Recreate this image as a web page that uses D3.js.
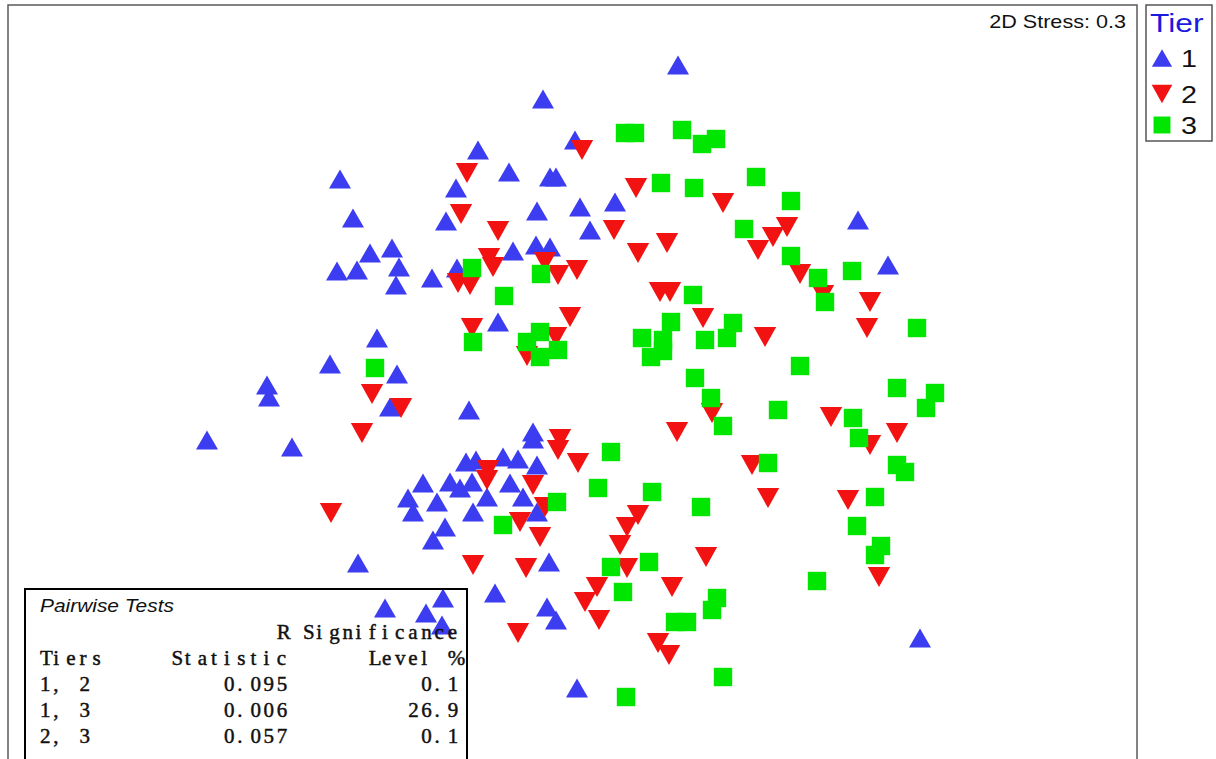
<!DOCTYPE html>
<html>
<head>
<meta charset="utf-8">
<script src="https://cdn.jsdelivr.net/npm/d3@7"></script>
<style>
  body { margin: 0; background: #fff; }
  svg { display: block; }
</style>
</head>
<body>
<div></div>
<script>
      var outerWidth  = 1216;
      var outerHeight = 759;
      var frame = { left: 8, top: 5, right: 1137, bottom: 762 };

      // MDS ordination coordinates, one array per tier
      var tier1 = [
        [1.08,3.15],[-0.27,2.81],[0.05,2.40],[-0.92,2.30],[-2.30,2.01],[-0.61,2.08],
        [-0.20,2.03],[-0.14,2.03],[-1.14,1.92],[-2.17,1.62],[-0.33,1.69],[0.10,1.73],
        [0.45,1.78],[-1.24,1.59],[0.20,1.50],[-1.78,1.32],[-2.00,1.27],[-0.34,1.35],
        [-0.20,1.33],[-0.57,1.29],[-2.13,1.10],[-2.33,1.09],[-1.71,1.13],[-1.38,1.02],
        [-1.74,0.95],[-1.13,1.12],[-0.72,0.58],[-1.93,0.42],[-2.40,0.16],[-1.73,0.06],
        [-3.03,-0.05],[-3.01,-0.17],[-1.80,-0.27],[-3.63,-0.60],[-2.78,-0.67],[-1.01,-0.30],
        [-0.37,-0.52],[-0.37,-0.59],[-1.04,-0.82],[-0.94,-0.80],[-0.67,-0.77],[-0.52,-0.79],
        [-0.33,-0.85],[-1.47,-1.03],[-1.20,-1.02],[-1.10,-1.08],[-0.98,-1.02],[-0.60,-1.03],
        [-0.47,-1.17],[-0.33,-1.32],[-1.62,-1.18],[-1.33,-1.22],[-1.57,-1.32],[-0.83,-1.17],
        [-0.97,-1.32],[-1.25,-1.47],[-1.37,-1.60],[-2.12,-1.83],[-0.21,-1.82],[-0.75,-2.13],
        [-1.85,-2.28],[-1.44,-2.33],[-1.27,-2.18],[-1.28,-2.45],[-0.23,-2.27],[-0.14,-2.40],
        [0.07,-3.08],[2.88,1.60],[3.18,1.15],[3.50,-2.58]
      ];
      var tier2 = [
        [0.12,2.30],[-1.03,2.07],[-1.09,1.66],[-0.72,1.49],[0.66,1.92],[0.44,1.50],
        [0.68,1.27],[0.97,1.37],[-0.81,1.22],[-0.77,1.13],[-0.25,1.18],[-0.12,1.05],
        [0.07,1.10],[-1.12,0.97],[-1.00,0.95],[1.53,1.77],[2.17,1.53],[2.03,1.43],
        [1.88,1.30],[2.30,1.06],[0.00,0.63],[-0.98,0.52],[0.90,0.88],[1.00,0.88],
        [-0.14,0.43],[-0.43,0.24],[1.07,-0.52],[-0.10,-0.59],[-0.12,-0.70],[0.08,-0.83],
        [-0.82,-0.90],[-0.83,-1.00],[-0.37,-1.05],[2.53,0.85],[3.00,0.78],[1.33,0.62],
        [2.97,0.52],[1.95,0.43],[1.42,-0.33],[2.61,-0.37],[3.27,-0.53],[3.00,-0.65],
        [1.82,-0.85],[1.98,-1.18],[2.78,-1.20],[-1.98,-0.14],[-1.69,-0.28],[-2.08,-0.53],
        [-2.39,-1.33],[-0.50,-1.42],[-0.30,-1.57],[-0.25,-1.27],[-0.97,-1.85],[-0.44,-1.88],
        [-0.52,-2.53],[0.68,-1.35],[0.57,-1.47],[0.50,-1.65],[0.57,-1.88],[1.36,-1.77],
        [0.27,-2.07],[0.15,-2.22],[0.29,-2.40],[1.02,-2.07],[0.88,-2.63],[0.99,-2.75],
        [3.09,-1.97]
      ];
      var tier3 = [
        [0.55,2.47],[0.65,2.47],[1.12,2.50],[0.91,1.97],[1.24,1.92],[-0.98,1.12],
        [-0.29,1.06],[1.46,2.41],[1.32,2.36],[1.86,2.03],[2.21,1.79],[1.74,1.51],
        [2.21,1.24],[2.48,1.02],[2.82,1.09],[-0.66,0.84],[-0.97,0.38],[-0.43,0.38],
        [-0.30,0.48],[-0.12,0.30],[-0.30,0.23],[0.72,0.42],[0.93,0.40],[1.01,0.58],
        [0.81,0.23],[0.93,0.29],[1.23,0.85],[1.25,0.02],[0.41,-0.72],[0.28,-1.08],
        [0.82,-1.12],[-0.13,-1.22],[2.55,0.78],[1.63,0.57],[1.57,0.42],[1.35,0.40],
        [3.47,0.52],[2.30,0.14],[1.41,-0.18],[3.27,-0.08],[3.65,-0.13],[3.56,-0.28],
        [2.08,-0.30],[1.53,-0.46],[2.83,-0.38],[2.89,-0.58],[1.98,-0.83],[3.27,-0.85],
        [3.35,-0.92],[3.05,-1.17],[1.31,-1.27],[0.41,-1.87],[0.79,-1.82],[0.53,-2.12],
        [1.47,-2.18],[1.42,-2.30],[1.05,-2.42],[1.17,-2.42],[1.53,-2.97],[0.56,-3.17],
        [2.87,-1.46],[3.11,-1.66],[3.05,-1.75],[2.47,-2.01],[-1.95,0.12],[-0.67,-1.45]
      ];

      var tiers      = ["1", "2", "3"];
      var tierColors = ["#3c3cf0", "#f21212", "#00e600"];
      var stressLabel = "2D Stress: 0.3";

      // ANOSIM pairwise table
      var pairLabels = ["1, 2", "1, 3", "2, 3"];
      var rStatistic = ["0.095", "0.006", "0.057"];
      var sigLevel   = ["0.1", "26.9", "0.1"];

      var xScale = d3.scaleLinear().domain([-5.62, 5.67]).range([frame.left, frame.right]);
      var yScale = d3.scaleLinear().domain([-3.82, 3.75]).range([frame.bottom, frame.top]);

      // marker shapes, centred on their bounding box
      var shapes = [
        "M0,-9.5L11,9.5L-11,9.5Z",
        "M0,10L11.2,-10L-11.2,-10Z",
        "M-9.2,-9.2H9.2V9.2H-9.2Z"
      ];

      var sans = "Liberation Sans, Arial, sans-serif";

      var svg = d3.select("div").append("svg")
        .attr("width",  outerWidth)
        .attr("height", outerHeight);

      svg.append("rect")
        .attr("width", outerWidth).attr("height", outerHeight)
        .attr("fill", "#fff");

      // the original output has its text a little wider than Arial
      function wideText(parent, x, y, size, sx){
        return parent.append("text")
          .attr("transform", "translate(" + x + "," + y + ") scale(" + sx + ",1)")
          .attr("font-family", sans)
          .attr("font-size", size)
          .attr("fill", "#111");
      }

      // plot frame
      svg.append("rect")
        .attr("x", frame.left).attr("y", frame.top)
        .attr("width", frame.right - frame.left)
        .attr("height", frame.bottom - frame.top)
        .attr("fill", "none")
        .attr("stroke", "#5a5a5a")
        .attr("stroke-width", 1.5);

      // points: tier 1, then 2, then 3 on top
      [tier1, tier2, tier3].forEach(function (data, i){
        svg.append("g").selectAll("path").data(data)
          .enter().append("path")
          .attr("d", shapes[i])
          .attr("fill", tierColors[i])
          .attr("transform", function (d){
            return "translate(" + xScale(d[0]) + "," + yScale(d[1]) + ")";
          });
      });

      wideText(svg, 1126, 28, 18, 1.2)
        .attr("text-anchor", "end")
        .text(stressLabel);

      // legend
      var legend = svg.append("g");
      legend.append("rect")
        .attr("x", 1146).attr("y", 5)
        .attr("width", 66).attr("height", 136)
        .attr("fill", "#fff")
        .attr("stroke", "#555").attr("stroke-width", 1.5);
      wideText(legend, 1150, 32, 26, 1.22)
        .attr("fill", "#1a1ae0")
        .text("Tier");
      var legendY = [58, 94, 125];
      tiers.forEach(function (t, i){
        legend.append("path")
          .attr("d", shapes[i])
          .attr("fill", tierColors[i])
          .attr("transform", "translate(1162," + legendY[i] + ") scale(0.92)");
        wideText(legend, 1181, legendY[i] + 9, 23, 1.25)
          .text(t);
      });

      // pairwise tests box
      var table = svg.append("g");
      table.append("rect")
        .attr("x", 25).attr("y", 589)
        .attr("width", 442).attr("height", 190)
        .attr("fill", "none")
        .attr("stroke", "#000").attr("stroke-width", 2);
      wideText(table, 40, 612, 19, 1.1)
        .attr("font-style", "italic")
        .text("Pairwise Tests");

      // fixed-width grid, like the original text output
      var cell = 13.15, col0 = 40, stretch = 1.05;
      function monoText(str, endCol, baseline){
        var start = endCol - str.length;
        var t = table.append("text")
          .attr("transform", "scale(" + stretch + ",1)")
          .attr("y", baseline)
          .attr("font-family", "Liberation Serif, Times New Roman, serif")
          .attr("font-size", 20)
          .attr("fill", "#111")
          .attr("stroke", "#111")
          .attr("stroke-width", 0.45)
          .style("white-space", "pre");
        str.split("").forEach(function (ch, i){
          t.append("tspan")
            .attr("x", (col0 + (start + i) * cell) / stretch)
            .text(ch);
        });
      }

      monoText("R Significance", 32, 639);
      monoText("Tiers", 5, 665);
      monoText("Statistic", 19, 665);
      monoText("Level %", 32, 665);
      pairLabels.forEach(function (p, i){
        var y = 691 + i * 26;
        monoText(p, 4, y);
        monoText(rStatistic[i], 19, y);
        monoText(sigLevel[i], 32, y);
      });
</script>
</body>
</html>
